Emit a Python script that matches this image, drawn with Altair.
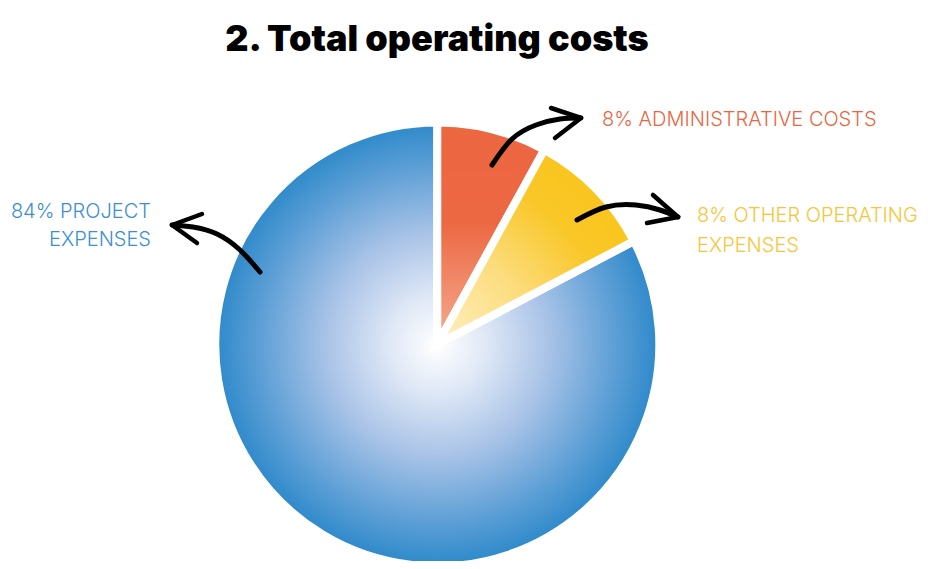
import altair as alt
import pandas as pd

# ---- data ----
slice_names = ["Administrative costs", "Other operating expenses", "Project expenses"]
slice_values = [8.0, 9.3, 82.7]          # drawn angular shares (labels show 8 / 8 / 84)
slice_order = [1, 2, 3]

label_lines = ["8% ADMINISTRATIVE COSTS", "8% OTHER OPERATING", "EXPENSES", "84% PROJECT", "EXPENSES"]
label_x = [602, 697, 697, 151, 151]
label_y = [126, 222, 252, 218, 246]
label_color = ["#ea6541", "#f7c636", "#f7c636", "#3a8fd0", "#3a8fd0"]
label_side = ["left", "left", "left", "right", "right"]

# arrows (annotation coordinates, page pixels)
shaft_id = ["admin"] * 5 + ["other"] * 5 + ["project"] * 5
shaft_x = [492, 512, 536, 560, 581,   577, 606, 636, 660, 678,   260, 240, 217, 193, 172]
shaft_y = [165, 139, 125, 119, 118,   220, 207, 205, 210, 217,   272, 250, 234, 227, 225]
head_id = ["admin"] * 3 + ["other"] * 3 + ["project"] * 3
head_x = [551, 581, 555,   653, 678, 647,   202, 172, 197]
head_y = [108, 118, 138,   195, 217, 223,   214, 225, 243]

title_text = "2. Total operating costs"

# ---- tables ----
pie_df = pd.DataFrame({"name": slice_names, "value": slice_values, "order": slice_order})
lab_df = pd.DataFrame({"text": label_lines, "x": label_x, "y": label_y,
                       "color": label_color, "side": label_side})
shaft_df = pd.DataFrame({"id": shaft_id, "x": shaft_x, "y": shaft_y, "i": list(range(len(shaft_x)))})
head_df = pd.DataFrame({"id": head_id, "x": head_x, "y": head_y, "i": list(range(len(head_x)))})
title_df = pd.DataFrame({"text": [title_text], "x": [437], "y": [51]})

W, H = 915, 553
xs = alt.Scale(domain=[8, 8 + W])
ys = alt.Scale(domain=[8, 8 + H], reverse=True)
ts = alt.Scale(domain=[0, 100], range=[0, 6.283185307179586])

CX, CY, R = 437.3 - 8, 344.4 - 8, 222

blue_grad = {
    "gradient": "radial", "x1": 0.5, "y1": 0.5, "r1": 0, "x2": 0.5, "y2": 0.5, "r2": 0.5,
    "stops": [
        {"offset": 0.0, "color": "#ffffff"},
        {"offset": 0.2, "color": "#e2eaf7"},
        {"offset": 0.5, "color": "#a9c3e7"},
        {"offset": 0.8, "color": "#5d9fd6"},
        {"offset": 1.0, "color": "#2d89ca"},
    ],
}
orange_grad = {
    "gradient": "linear", "x1": 0, "y1": 0, "x2": 0, "y2": 1,
    "stops": [
        {"offset": 0.0, "color": "#ec6640"},
        {"offset": 0.45, "color": "#ec6843"},
        {"offset": 1.0, "color": "#f5ad91"},
    ],
}
yellow_grad = {
    "gradient": "radial", "x1": 0, "y1": 1, "r1": 0, "x2": 0, "y2": 1, "r2": 1.1,
    "stops": [
        {"offset": 0.0, "color": "#fef0c4"},
        {"offset": 0.45, "color": "#fcdc7c"},
        {"offset": 0.8, "color": "#f9c728"},
        {"offset": 1.0, "color": "#f9c51f"},
    ],
}

base = alt.Chart(pie_df).transform_stack(
    stack="value", groupby=[], as_=["v0", "v1"], sort=[alt.SortField("order")]
)

def slice_layer(name, grad):
    return base.transform_filter(alt.datum.name == name).mark_arc(
        fill=grad, stroke="white", strokeWidth=8, radius=R
    ).encode(
        theta=alt.Theta("v0:Q", scale=ts),
        theta2="v1:Q",
        x=alt.value(CX),
        y=alt.value(CY),
    )

arcs = [
    slice_layer("Project expenses", blue_grad),
    slice_layer("Administrative costs", orange_grad),
    slice_layer("Other operating expenses", yellow_grad),
]

shafts = alt.Chart(shaft_df).mark_line(
    color="black", strokeWidth=5, strokeCap="round", interpolate="natural"
).encode(
    x=alt.X("x:Q", scale=xs, axis=None),
    y=alt.Y("y:Q", scale=ys, axis=None),
    detail="id:N",
    order="i:Q",
)
heads = alt.Chart(head_df).mark_line(
    color="black", strokeWidth=4.5, strokeCap="round", strokeJoin="round"
).encode(
    x=alt.X("x:Q", scale=xs, axis=None),
    y=alt.Y("y:Q", scale=ys, axis=None),
    detail="id:N",
    order="i:Q",
)

def labels(side):
    return alt.Chart(lab_df).transform_filter(alt.datum.side == side).mark_text(
        align=side, baseline="alphabetic", font="Inter", fontSize=20, fontWeight=300
    ).encode(
        x=alt.X("x:Q", scale=xs, axis=None),
        y=alt.Y("y:Q", scale=ys, axis=None),
        text="text:N",
        color=alt.Color("color:N", scale=None),
    )

title = alt.Chart(title_df).mark_text(
    align="center", baseline="alphabetic", font="Inter", fontSize=36, fontWeight=900, color="black"
).encode(
    x=alt.X("x:Q", scale=xs, axis=None),
    y=alt.Y("y:Q", scale=ys, axis=None),
    text="text:N",
)

chart = alt.layer(*arcs, shafts, heads, labels("left"), labels("right"), title).properties(
    width=W, height=H, padding=0, background="white",
    autosize=alt.AutoSizeParams(type="none")
).configure_view(strokeWidth=0, stroke=None)

chart.save("out.html", embed_options={"renderer": "svg", "actions": False})
